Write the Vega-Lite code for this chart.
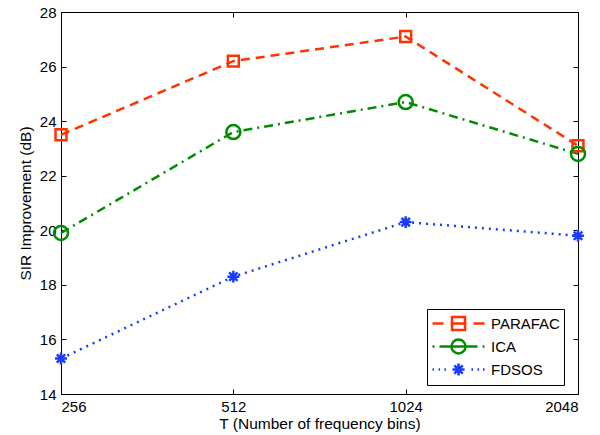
{
  "$schema": "https://vega.github.io/schema/vega-lite/v6.json",
  "autosize": "none",
  "width": 517,
  "height": 382,
  "padding": {"left": 61, "top": 12, "right": 22, "bottom": 41},
  "background": "white",
  "config": {
    "font": "Liberation Sans",
    "view": {"stroke": "black", "strokeWidth": 1},
    "axis": {"grid": false, "domainColor": "black", "tickColor": "black", "labelColor": "black", "titleColor": "black", "labelFont": "Liberation Sans", "titleFont": "Liberation Sans", "labelFontSize": 15, "titleFontSize": 15.5, "titleFontWeight": "normal", "tickSize": -5, "labelPadding": 10}
  },
  "data": {
    "values": [
      {"T": 256, "series": "PARAFAC", "sir": 23.5},
      {"T": 512, "series": "PARAFAC", "sir": 26.2},
      {"T": 1024, "series": "PARAFAC", "sir": 27.1},
      {"T": 2048, "series": "PARAFAC", "sir": 23.1},
      {"T": 256, "series": "ICA", "sir": 19.9},
      {"T": 512, "series": "ICA", "sir": 23.6},
      {"T": 1024, "series": "ICA", "sir": 24.7},
      {"T": 2048, "series": "ICA", "sir": 22.8},
      {"T": 256, "series": "FDSOS", "sir": 15.3},
      {"T": 512, "series": "FDSOS", "sir": 18.3},
      {"T": 1024, "series": "FDSOS", "sir": 20.3},
      {"T": 2048, "series": "FDSOS", "sir": 19.8}
    ]
  },
  "resolve": {"axis": {"x": "independent", "y": "independent"}, "scale": {"color": "independent", "shape": "independent"}},
  "layer": [
    {
      "mark": {"type": "line", "strokeWidth": 2.5},
      "encoding": {
        "x": {"field": "T", "type": "quantitative", "scale": {"type": "log", "base": 2, "domain": [256, 2048]}, "axis": {"values": [256, 512, 1024, 2048], "title": "T (Number of frequency bins)", "titlePadding": 2, "format": "d"}},
        "y": {"field": "sir", "type": "quantitative", "scale": {"domain": [14, 28]}, "axis": {"values": [14, 16, 18, 20, 22, 24, 26, 28], "title": "SIR Improvement (dB)", "titlePadding": 6}},
        "color": {"field": "series", "type": "nominal", "scale": {"range": ["#1a3cff", "#008c00", "#ff3300"]}, "legend": null},
        "strokeDash": {"field": "series", "type": "nominal", "scale": {"range": [[2, 5], [9, 5, 2, 5], [9, 6]]}, "legend": null},
        "strokeWidth": {"field": "series", "type": "nominal", "scale": {"range": [1.5, 2.5, 2.5]}, "legend": null}
      }
    },
    {
      "mark": {"type": "point", "filled": false, "strokeWidth": 2.5, "opacity": 1, "size": 196},
      "encoding": {
        "x": {"field": "T", "type": "quantitative", "scale": {"type": "log", "base": 2, "domain": [256, 2048]}, "axis": {"orient": "top", "values": [256, 512, 1024, 2048], "labels": false, "title": null}},
        "y": {"field": "sir", "type": "quantitative", "scale": {"domain": [14, 28]}, "axis": {"orient": "right", "values": [14, 16, 18, 20, 22, 24, 26, 28], "labels": false, "title": null}},
        "color": {"field": "series", "type": "nominal", "scale": {"range": ["#1a3cff", "#008c00", "#ff3300"]}, "legend": null},
        "shape": {"field": "series", "type": "nominal", "scale": {"range": ["M0,-0.85V0.85M-0.85,0H0.85M-0.6,-0.6L0.6,0.6M-0.6,0.6L0.6,-0.6", "circle", "M-0.78,-0.78H0.78V0.78H-0.78Z"]}, "legend": null}
      }
    },
    {
      "transform": [{"filter": "datum.sir < 0"}],
      "mark": {"type": "point", "filled": false, "strokeWidth": 2.5, "opacity": 1},
      "encoding": {
        "color": {"field": "series", "type": "nominal", "scale": {"domain": ["PARAFAC", "ICA", "FDSOS"], "range": ["#ff3300", "#008c00", "#1a3cff"]},
          "legend": {
            "title": null, "orient": "none", "legendX": 366, "legendY": 297,
            "fillColor": "white", "strokeColor": "black", "padding": 4, "cornerRadius": 0,
            "labelFontSize": 15, "labelColor": "black", "labelFont": "Liberation Sans",
            "symbolSize": 324, "symbolStrokeWidth": 2.5, "labelOffset": 39, "rowPadding": -1
          }},
        "shape": {"field": "series", "type": "nominal", "scale": {"domain": ["PARAFAC", "ICA", "FDSOS"], "range": [
          "M-1,0H0.22M1,0H2.78M3.56,0H4.78M1.17,-0.72H2.61V0.72H1.17Z",
          "M-1,0H-0.78M-0.22,0H4M4.56,0H4.78M2.67,0A0.78,0.78 0 1,1 1.11,0A0.78,0.78 0 1,1 2.67,0Z",
          "M-1,0H-0.83M-0.33,0H-0.17M0.33,0H0.5M3.33,0H3.5M4,0H4.17M4.61,0H4.78M1.89,-0.67V0.67M1.22,0H2.56M1.42,-0.47L2.36,0.47M1.42,0.47L2.36,-0.47"
        ]}}
      }
    }
  ]
}
